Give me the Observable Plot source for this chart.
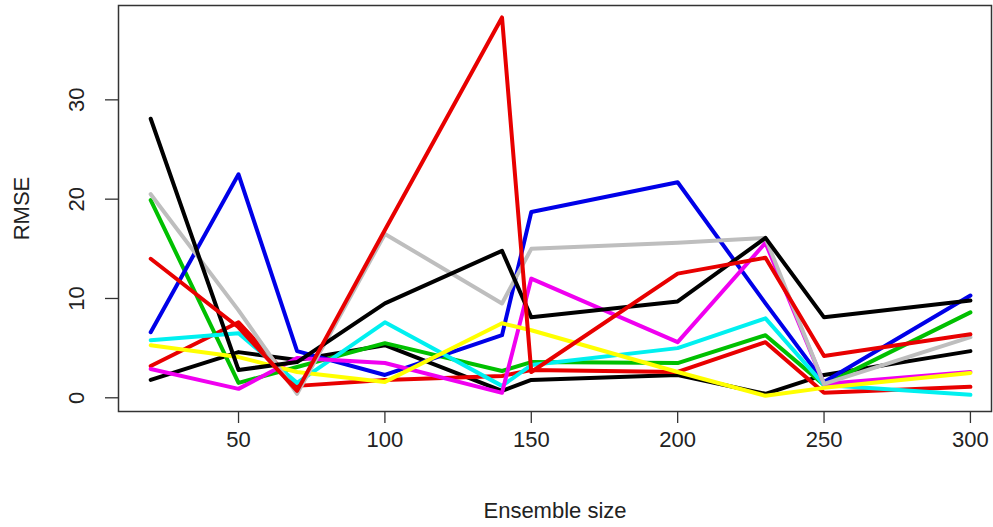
<!DOCTYPE html>
<html><head><meta charset="utf-8">
<script src="https://cdn.jsdelivr.net/npm/d3@7"></script>
<script src="https://cdn.jsdelivr.net/npm/@observablehq/plot@0.6"></script>
<style>html,body{margin:0;padding:0;background:#fff} svg{display:block}</style>
</head><body><div id="chart"></div>
<script>
// x values (ensemble sizes)
const ensembleSize = [20, 50, 70, 100, 140, 150, 200, 230, 250, 300];

// RMSE series, in drawing order (R palette 1..8, then 1, 2)
const seriesBlack1  = [1.8, 4.6, 3.8, 5.3, 0.7, 1.8, 2.3, 0.4, 2.3, 4.7];
const seriesRed1    = [3.2, 7.6, 1.2, 1.8, 2.2, 2.8, 2.6, 5.6, 0.5, 1.1];
const seriesGreen   = [19.9, 1.5, 3.1, 5.5, 2.7, 3.6, 3.5, 6.3, 1.3, 8.6];
const seriesBlue    = [6.6, 22.5, 4.7, 2.3, 6.3, 18.7, 21.7, 9.5, 1.6, 10.3];
const seriesCyan    = [5.8, 6.5, 1.5, 7.6, 1.2, 3.3, 5.0, 8.0, 1.3, 0.3];
const seriesMagenta = [2.9, 0.9, 4.0, 3.5, 0.5, 12.0, 5.6, 15.6, 1.4, 2.6];
const seriesYellow  = [5.3, 4.1, 2.6, 1.6, 7.5, 6.8, 2.6, 0.2, 1.0, 2.5];
const seriesGray    = [20.5, 8.8, 0.4, 16.5, 9.5, 15.0, 15.6, 16.1, 1.4, 6.1];
const seriesBlack2  = [28.1, 2.8, 3.6, 9.5, 14.8, 8.1, 9.7, 16.1, 8.1, 9.8];
const seriesRed2    = [14.0, 7.1, 0.7, 16.9, 38.3, 2.6, 12.5, 14.1, 4.2, 6.4];

const seriesNames  = ["black1","red1","green","blue","cyan","magenta","yellow","gray","black2","red2"];
const seriesValues = [seriesBlack1, seriesRed1, seriesGreen, seriesBlue, seriesCyan, seriesMagenta, seriesYellow, seriesGray, seriesBlack2, seriesRed2];
const seriesColors = ["#000000","#e80000","#00c000","#0000e8","#00f0f0","#f000f0","#ffff00","#bebebe","#000000","#e80000"];

const xTicks = [50, 100, 150, 200, 250, 300];
const yTicks = [0, 10, 20, 30];
const xLabel = "Ensemble size";
const yLabel = "RMSE";

const rows = [];
seriesValues.forEach((vals, i) => {
  vals.forEach((v, j) => rows.push({series: seriesNames[i], order: i, x: ensembleSize[j], y: v}));
});

const font = "'Liberation Sans', Arial, sans-serif";
const fs = 22;

const marks = [];
seriesNames.forEach((name, i) => {
  marks.push(Plot.line(rows.filter(r => r.series === name), {
    x: "x", y: "y", stroke: seriesColors[i], strokeWidth: 4,
    strokeLinejoin: "round", strokeLinecap: "round"
  }));
});
marks.push(Plot.frame({stroke: "#333", strokeWidth: 1.5}));
marks.push(Plot.axisX({ticks: xTicks, tickSize: 12, tickPadding: 8, fontSize: fs, label: null, stroke: "#333", strokeWidth: 1.3, fill: "#222"}));
marks.push(Plot.axisY({ticks: yTicks, tickSize: 13, tickFormat: () => "", label: null, stroke: "#333", strokeWidth: 1.3}));
marks.push(Plot.text(yTicks, {y: d => d, text: d => String(d), frameAnchor: "left", dx: -42, rotate: -90, textAnchor: "middle", lineAnchor: "middle", fontSize: fs, fill: "#222"}));
marks.push(Plot.text([xLabel], {frameAnchor: "bottom", dy: 99, textAnchor: "middle", lineAnchor: "middle", fontSize: fs, fill: "#222"}));
marks.push(Plot.text([yLabel], {frameAnchor: "left", dx: -97, rotate: -90, textAnchor: "middle", lineAnchor: "middle", fontSize: fs, fill: "#222"}));

const chart = Plot.plot({
  width: 993, height: 527,
  marginLeft: 118, marginRight: 2, marginTop: 5, marginBottom: 116,
  style: {fontFamily: font, background: "#fff", overflow: "visible"},
  x: {domain: [9.0, 307.2]},
  y: {domain: [-1.38, 39.5]},
  marks
});
document.getElementById("chart").appendChild(chart);
</script>
</body></html>
